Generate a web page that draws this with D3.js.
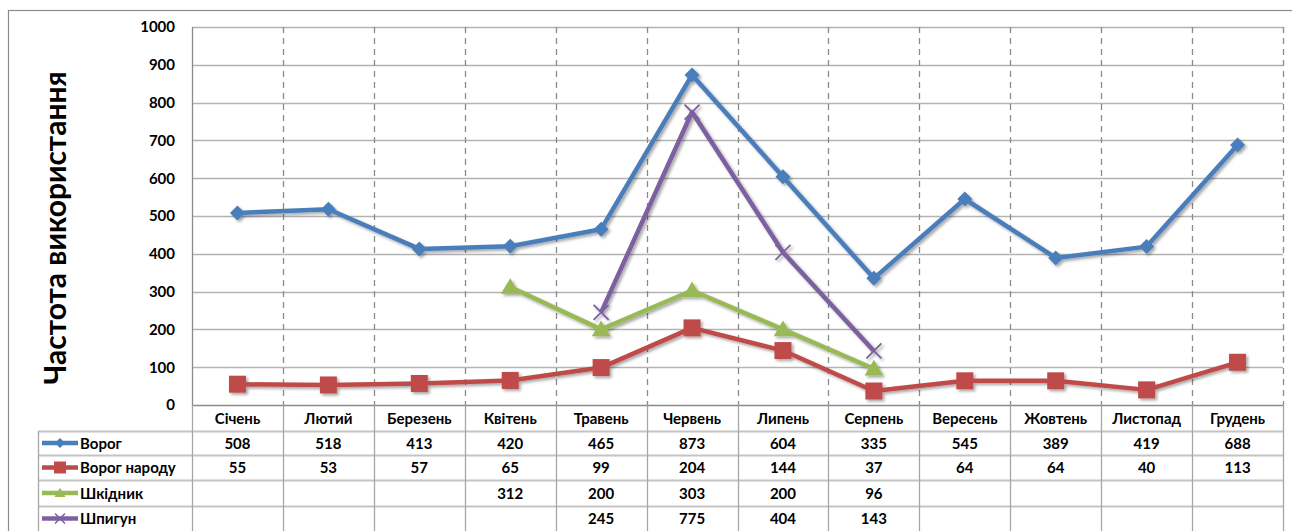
<!DOCTYPE html>
<html><head><meta charset="utf-8">
<script src="https://cdn.jsdelivr.net/npm/d3@7/dist/d3.min.js"></script>
<style>body{margin:0;background:#fff}svg{display:block}text{font-family:Lato,"Open Sans",sans-serif}</style>
</head><body>
<svg id="c" width="1292" height="531"></svg>
<script>
const months = ["Січень","Лютий","Березень","Квітень","Травень","Червень","Липень","Серпень","Вересень","Жовтень","Листопад","Грудень"];
const vorog = [508,518,413,420,465,873,604,335,545,389,419,688];
const vorogNarodu = [55,53,57,65,99,204,144,37,64,64,40,113];
const shkidnyk = [null,null,null,312,200,303,200,96,null,null,null,null];
const shpyhun = [null,null,null,null,245,775,404,143,null,null,null,null];
const yTicks = [0,100,200,300,400,500,600,700,800,900,1000];
const yTitle = "Частота використання";

const series = [
  {name:"Ворог", values:vorog, color:"#4A7EBB", marker:"diamond"},
  {name:"Ворог народу", values:vorogNarodu, color:"#BE4B48", marker:"square"},
  {name:"Шкідник", values:shkidnyk, color:"#98B954", marker:"triangle"},
  {name:"Шпигун", values:shpyhun, color:"#7D60A0", marker:"x"}
];

const svg = d3.select("#c");
const L = 192, R = 1283, T = 27, B = 405;
const tableLeft = 38;
const rowY = [405, 431, 455, 480, 506, 531];
const FS = 15;

const x = d3.scaleBand().domain(months).range([L, R]);
const y = d3.scaleLinear().domain([0, 1000]).range([B, T]);

const defs = svg.append("defs");
const f = defs.append("filter").attr("id","sh").attr("x","-20%").attr("y","-20%").attr("width","140%").attr("height","140%");
f.append("feGaussianBlur").attr("in","SourceAlpha").attr("stdDeviation",1.5);
f.append("feOffset").attr("dx",1.5).attr("dy",2).attr("result","ob");
f.append("feComponentTransfer").append("feFuncA").attr("type","linear").attr("slope",0.35);
const fm = f.append("feMerge"); fm.append("feMergeNode"); fm.append("feMergeNode").attr("in","SourceGraphic");

svg.append("rect").attr("x",8.5).attr("y",10.5).attr("width",1300).attr("height",540)
  .attr("fill","none").attr("stroke","#8c8c8c").attr("stroke-width",1.2);

svg.append("g").selectAll("line").data(yTicks.filter(d=>d>0)).join("line")
  .attr("x1",L).attr("x2",R).attr("y1",d=>Math.round(y(d))+0.5).attr("y2",d=>Math.round(y(d))+0.5)
  .attr("stroke","#b3b3b3").attr("stroke-width",1.3);

const bounds = months.map(m=>x(m)).concat([R]);
svg.append("g").selectAll("line").data(bounds.slice(1)).join("line")
  .attr("x1",d=>Math.round(d)+0.5).attr("x2",d=>Math.round(d)+0.5).attr("y1",T).attr("y2",B)
  .attr("stroke","#8a8a8a").attr("stroke-width",1.3).attr("stroke-dasharray","6,5");

svg.append("line").attr("x1",L+0.5).attr("x2",L+0.5).attr("y1",T).attr("y2",B).attr("stroke","#8a8a8a").attr("stroke-width",1.3);

const yAxis = d3.axisLeft(y).tickValues(yTicks).tickFormat(d3.format("d")).tickSize(0).tickPadding(17);
const ya = svg.append("g").attr("transform",`translate(${L},0)`).call(yAxis);
ya.select(".domain").remove();
ya.selectAll("text").attr("font-family","Lato").attr("font-weight","bold").attr("font-size",FS).attr("fill","#000");

svg.append("text").attr("transform","translate(66,228) rotate(-90)").attr("text-anchor","middle")
  .attr("font-size",30).attr("font-weight","bold").attr("fill","#000").text(yTitle);

const tg = svg.append("g").attr("stroke","#a6a6a6").attr("stroke-width",1.3);
tg.append("line").attr("x1",L).attr("x2",R).attr("y1",B+0.5).attr("y2",B+0.5).attr("stroke","#8a8a8a");
rowY.slice(1,5).forEach(ry=>{
  tg.append("line").attr("x1",tableLeft).attr("x2",R).attr("y1",ry+0.5).attr("y2",ry+0.5).attr("stroke-width",2).attr("stroke","#c4c4c4");
});
tg.append("line").attr("x1",tableLeft+0.5).attr("x2",tableLeft+0.5).attr("y1",rowY[1]).attr("y2",531);
bounds.forEach(b=>{
  tg.append("line").attr("x1",Math.round(b)+0.5).attr("x2",Math.round(b)+0.5).attr("y1",B).attr("y2",531);
});

const xAxis = d3.axisBottom(x).tickSize(0).tickPadding(0);
const xa = svg.append("g").attr("transform",`translate(0,${B})`).call(xAxis);
xa.select(".domain").remove();
xa.selectAll("text").attr("dy",null).attr("y",19).attr("font-family","Lato").attr("font-weight","bold").attr("font-size",FS).attr("fill","#000");

function markerPath(type, s){
  if(type==="diamond") return `M0,${-s}L${s},0L0,${s}L${-s},0Z`;
  if(type==="square") return `M${-s},${-s}H${s}V${s}H${-s}Z`;
  if(type==="triangle") return `M0,${-s*1.05}L${s*1.1},${s*0.8}L${-s*1.1},${s*0.8}Z`;
  return `M${-s},${-s}L${s},${s}M${s},${-s}L${-s},${s}`;
}
const msize = {diamond:7.5, square:8.5, triangle:8.5, x:7.5};

const cx = m => x(m) + x.bandwidth()/2;
const lineGen = d3.line().defined(d=>d.v!=null).x(d=>cx(d.m)).y(d=>y(d.v));
series.forEach((s,si)=>{
  const data = months.map((m,i)=>({m, v:s.values[i]}));
  const g = svg.append("g").attr("filter","url(#sh)");
  g.append("path").datum(data).attr("d",lineGen).attr("fill","none").attr("stroke",s.color).attr("stroke-width",4.5).attr("stroke-linejoin","round");
  g.selectAll(".mk").data(data.filter(d=>d.v!=null)).join("path")
    .attr("transform",d=>`translate(${cx(d.m)},${y(d.v)})`)
    .attr("d",markerPath(s.marker, msize[s.marker]))
    .attr("fill",s.marker==="x"?"none":s.color)
    .attr("stroke",s.color).attr("stroke-width",s.marker==="x"?1.8:0);
  const ry0 = rowY[si+1], ry1 = rowY[si+2];
  const ym = (ry0+ry1)/2;
  const lg = svg.append("g");
  lg.append("line").attr("x1",42).attr("x2",78).attr("y1",ym).attr("y2",ym).attr("stroke",s.color).attr("stroke-width",4.5);
  lg.append("path").attr("transform",`translate(60,${ym})`).attr("d",markerPath(s.marker, s.marker==="square"?6:5))
    .attr("fill",s.marker==="x"?"none":s.color).attr("stroke",s.color).attr("stroke-width",s.marker==="x"?1.5:0);
  lg.append("text").attr("x",80).attr("y",ym+5.5).attr("font-size",FS).attr("font-weight","bold").attr("fill","#000").text(s.name);
  svg.append("g").selectAll("text").data(data.filter(d=>d.v!=null)).join("text")
    .attr("x",d=>cx(d.m)).attr("y",ym+5.5).attr("text-anchor","middle")
    .attr("font-size",FS).attr("font-weight","bold").attr("fill","#000").text(d=>d.v);
});
</script>
</body></html>
